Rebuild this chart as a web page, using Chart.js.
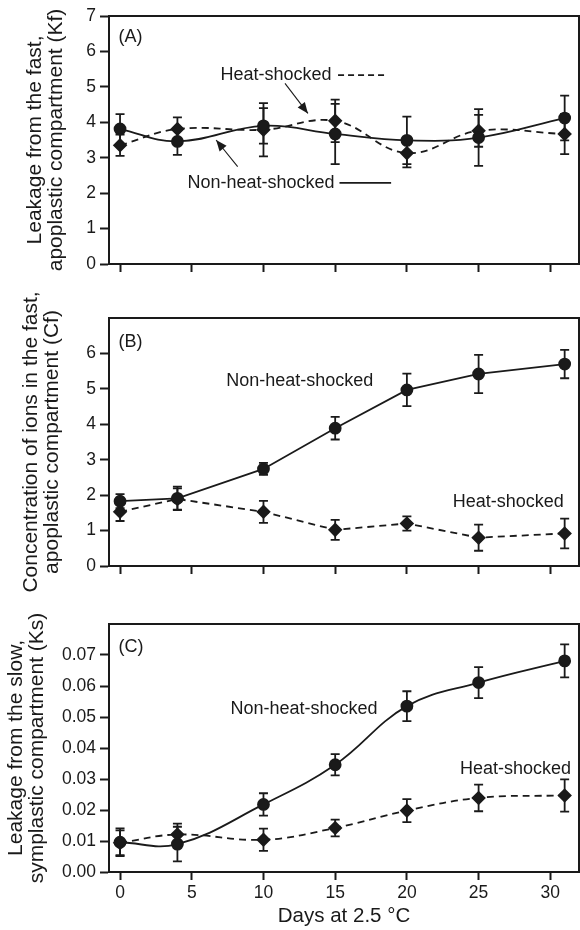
<!DOCTYPE html>
<html>
<head>
<meta charset="utf-8">
<script src="https://cdn.jsdelivr.net/npm/chart.js@4.4.1/dist/chart.umd.min.js"></script>
<style>
html, body { margin: 0; padding: 0; background: #fff; }
#wrap { position: relative; width: 580px; height: 930px; overflow: hidden; }
canvas { position: absolute; left: 0; }
</style>
</head>
<body>
<div id="wrap">
  <canvas id="panelA" style="top:0px" width="580" height="290"></canvas>
  <canvas id="panelB" style="top:290px" width="580" height="310"></canvas>
  <canvas id="panelC" style="top:600px" width="580" height="330"></canvas>
</div>
<script>
// sampling days and x tick labels
var days = [0, 4, 10, 15, 20, 25, 31];
var dayTicks = [0, 5, 10, 15, 20, 25, 30];

// (A) leakage from the fast compartment, Kf
var kfTicks = [0, 1, 2, 3, 4, 5, 6, 7];
var kfControl = [3.81, 3.46, 3.9, 3.67, 3.49, 3.57, 4.12];
var kfControlErr = [0.42, 0.38, 0.5, 0.85, 0.67, 0.8, 0.63];
var kfHeat = [3.35, 3.81, 3.79, 4.04, 3.13, 3.76, 3.67];
var kfHeatErr = [0.3, 0.33, 0.75, 0.6, 0.4, 0.45, 0.57];

// (B) ion concentration in the fast compartment, Cf
var cfTicks = [0, 1, 2, 3, 4, 5, 6];
var cfControl = [1.83, 1.91, 2.74, 3.89, 4.97, 5.42, 5.7];
var cfControlErr = [0.2, 0.33, 0.17, 0.32, 0.46, 0.54, 0.4];
var cfHeat = [1.53, 1.89, 1.53, 1.02, 1.2, 0.8, 0.92];
var cfHeatErr = [0.26, 0.3, 0.31, 0.28, 0.2, 0.37, 0.42];

// (C) leakage from the slow compartment, Ks
var ksTicks = [0, 0.01, 0.02, 0.03, 0.04, 0.05, 0.06, 0.07];
var ksControl = [0.0096, 0.009, 0.0218, 0.0346, 0.0535, 0.0611, 0.0681];
var ksControlErr = [0.0045, 0.0056, 0.0036, 0.0034, 0.0048, 0.005, 0.0053];
var ksHeat = [0.0094, 0.0121, 0.0104, 0.0142, 0.0198, 0.0239, 0.0247];
var ksHeatErr = [0.004, 0.0035, 0.0036, 0.0027, 0.0037, 0.0043, 0.0052];

var ink = '#1a1a1a';
var fam = '"Liberation Sans", Arial, Helvetica, sans-serif';
Chart.defaults.font.family = fam;
Chart.defaults.color = ink;

function toPoints(vals) {
  return days.map(function (d, i) { return { x: d, y: vals[i] }; });
}

function series(vals, errs, shape, dash, tension) {
  return {
    data: toPoints(vals),
    errors: errs,
    showLine: true,
    borderColor: ink,
    borderWidth: 1.8,
    borderDash: dash,
    tension: tension,
    pointStyle: shape,
    pointRadius: shape === 'circle' ? 5.5 : 6,
    pointBackgroundColor: ink,
    pointBorderColor: ink,
    clip: false
  };
}

// error bars, frame and text notes
var extras = {
  id: 'extras',
  beforeDatasetsDraw: function (chart) {
    var ctx = chart.ctx, xs = chart.scales.x, ys = chart.scales.y;
    ctx.save();
    ctx.strokeStyle = ink;
    ctx.lineWidth = 1.8;
    chart.data.datasets.forEach(function (ds) {
      ds.data.forEach(function (p, i) {
        var px = xs.getPixelForValue(p.x);
        var top = ys.getPixelForValue(p.y + ds.errors[i]);
        var bot = ys.getPixelForValue(p.y - ds.errors[i]);
        ctx.beginPath();
        ctx.moveTo(px, top); ctx.lineTo(px, bot);
        ctx.moveTo(px - 4.5, top); ctx.lineTo(px + 4.5, top);
        ctx.moveTo(px - 4.5, bot); ctx.lineTo(px + 4.5, bot);
        ctx.stroke();
      });
    });
    ctx.restore();
  },
  afterDraw: function (chart, args, opts) {
    var ctx = chart.ctx, xs = chart.scales.x, ys = chart.scales.y, a = chart.chartArea;
    ctx.save();
    ctx.strokeStyle = ink;
    ctx.fillStyle = ink;
    ctx.lineWidth = 2;
    ctx.beginPath();
    ctx.moveTo(a.left, a.top); ctx.lineTo(a.right, a.top); ctx.lineTo(a.right, a.bottom);
    ctx.stroke();
    (opts.items || []).forEach(function (it) {
      if (it.text) {
        ctx.font = '18px ' + fam;
        ctx.textAlign = 'left';
        ctx.textBaseline = 'middle';
        ctx.fillText(it.text, xs.getPixelForValue(it.x), ys.getPixelForValue(it.y));
        return;
      }
      var x1 = xs.getPixelForValue(it.x1), y1 = ys.getPixelForValue(it.y1);
      var x2 = xs.getPixelForValue(it.x2), y2 = ys.getPixelForValue(it.y2);
      ctx.lineWidth = it.arrow ? 1.1 : 1.8;
      ctx.setLineDash(it.dash || []);
      ctx.beginPath();
      ctx.moveTo(x1, y1); ctx.lineTo(x2, y2);
      ctx.stroke();
      ctx.setLineDash([]);
      if (it.arrow) {
        var ang = Math.atan2(y2 - y1, x2 - x1);
        ctx.beginPath();
        ctx.moveTo(x2, y2);
        ctx.lineTo(x2 - 11 * Math.cos(ang) + 4.5 * Math.sin(ang), y2 - 11 * Math.sin(ang) - 4.5 * Math.cos(ang));
        ctx.lineTo(x2 - 11 * Math.cos(ang) - 4.5 * Math.sin(ang), y2 - 11 * Math.sin(ang) + 4.5 * Math.cos(ang));
        ctx.closePath();
        ctx.fill();
      }
    });
    ctx.restore();
  }
};

function makePanel(id, cfg) {
  return new Chart(document.getElementById(id), {
    type: 'scatter',
    data: {
      datasets: [
        series(cfg.control, cfg.controlErr, 'circle', [], cfg.tension),
        series(cfg.heat, cfg.heatErr, 'rectRot', [7, 5], cfg.tension)
      ]
    },
    plugins: [extras],
    options: {
      responsive: false,
      animation: false,
      events: [],
      layout: { autoPadding: false, padding: { top: cfg.padTop, right: 1, left: 0, bottom: 0 } },
      plugins: {
        legend: { display: false },
        tooltip: { enabled: false },
        extras: { items: cfg.notes }
      },
      scales: {
        x: {
          type: 'linear',
          min: -0.77,
          max: 32,
          afterBuildTicks: function (s) { s.ticks = dayTicks.map(function (v) { return { value: v }; }); },
          afterFit: function (s) { s.height = cfg.xHeight; },
          border: { color: ink, width: 2 },
          grid: { drawOnChartArea: false, tickLength: 8, tickWidth: 2, tickColor: ink },
          ticks: { display: cfg.xLabels, font: { size: 17.5 }, color: ink, padding: 3, maxRotation: 0 },
          title: {
            display: cfg.xLabels,
            text: 'Days at 2.5 °C',
            font: { size: 20.5, lineHeight: 1.1 },
            color: ink,
            padding: { top: 0, bottom: 2 }
          }
        },
        y: {
          min: 0,
          max: cfg.yMax,
          afterBuildTicks: function (s) { s.ticks = cfg.yTicks.map(function (v) { return { value: v }; }); },
          afterFit: function (s) { s.width = 109; },
          border: { color: ink, width: 2 },
          grid: { drawOnChartArea: false, tickLength: 9, tickWidth: 2, tickColor: ink },
          ticks: {
            font: { size: 17.5 },
            color: ink,
            padding: 4,
            callback: function (v) { return cfg.decimals ? v.toFixed(cfg.decimals) : String(v); }
          },
          title: {
            display: true,
            text: cfg.yTitle,
            font: { size: 21, lineHeight: 1.0 },
            color: ink,
            padding: { top: cfg.titlePad, bottom: 0 }
          }
        }
      }
    }
  });
}

makePanel('panelA', {
  control: kfControl, controlErr: kfControlErr, heat: kfHeat, heatErr: kfHeatErr,
  yTicks: kfTicks, yMax: 7, decimals: 0, tension: 0.4,
  padTop: 16, xHeight: 26, xLabels: false, titlePad: 25,
  yTitle: ['Leakage from the fast,', 'apoplastic compartment (Kf)'],
  notes: [
    { text: '(A)', x: -0.1, y: 6.4 },
    { text: 'Heat-shocked', x: 7.0, y: 5.33 },
    { x1: 15.2, y1: 5.33, x2: 18.6, y2: 5.33, dash: [6, 4] },
    { text: 'Non-heat-shocked', x: 4.7, y: 2.29 },
    { x1: 15.3, y1: 2.29, x2: 18.9, y2: 2.29 },
    { x1: 11.5, y1: 5.1, x2: 13.1, y2: 4.25, arrow: true },
    { x1: 8.2, y1: 2.75, x2: 6.7, y2: 3.5, arrow: true }
  ]
});

makePanel('panelB', {
  control: cfControl, controlErr: cfControlErr, heat: cfHeat, heatErr: cfHeatErr,
  yTicks: cfTicks, yMax: 7, decimals: 0, tension: 0,
  padTop: 28, xHeight: 34, xLabels: false, titlePad: 21,
  yTitle: ['Concentration of ions in the fast,', 'apoplastic compartment (Cf)'],
  notes: [
    { text: '(B)', x: -0.1, y: 6.32 },
    { text: 'Non-heat-shocked', x: 7.4, y: 5.22 },
    { text: 'Heat-shocked', x: 23.2, y: 1.81 }
  ]
});

makePanel('panelC', {
  control: ksControl, controlErr: ksControlErr, heat: ksHeat, heatErr: ksHeatErr,
  yTicks: ksTicks, yMax: 0.08, decimals: 2, tension: 0.4,
  padTop: 24, xHeight: 58, xLabels: true, titlePad: 6,
  yTitle: ['Leakage from the slow,', 'symplastic compartment (Ks)'],
  notes: [
    { text: '(C)', x: -0.1, y: 0.0726 },
    { text: 'Non-heat-shocked', x: 7.7, y: 0.0526 },
    { text: 'Heat-shocked', x: 23.7, y: 0.0332 }
  ]
});
</script>
</body>
</html>
